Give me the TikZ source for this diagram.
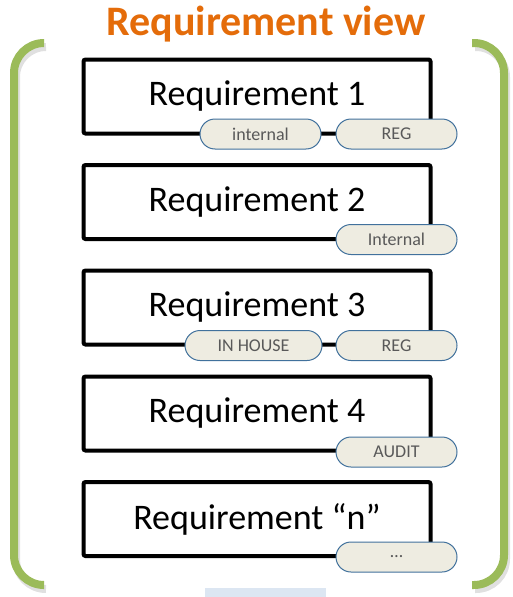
\documentclass[tikz,border=0pt]{standalone}
\usepackage{fontspec}
\setmainfont{Carlito}
\definecolor{brgreen}{HTML}{9BBB59}
\definecolor{ttlorange}{HTML}{E46C0A}
\definecolor{pillfill}{HTML}{EEECE1}
\definecolor{pillline}{HTML}{41719C}
\definecolor{pilltext}{HTML}{595959}
\definecolor{lblue}{HTML}{DCE6F2}
\begin{document}
\begin{tikzpicture}[x=1pt,y=-1pt,
  reqbox/.style={draw=black,line width=4pt,rounded corners=2pt,minimum width=347pt,minimum height=74pt,inner sep=0pt,font=\fontsize{36}{38}\selectfont,text=black},
  pill/.style={draw=pillline,line width=1pt,fill=pillfill,rounded corners=15pt,minimum width=121pt,minimum height=30pt,inner sep=0pt,font=\fontsize{18}{19}\selectfont,text=pilltext},
  bracket/.style={draw=brgreen,line width=8pt,rounded corners=30pt},
  bshadow/.style={draw=black!12,line width=8pt,rounded corners=30pt}]
\useasboundingbox (0,0) rectangle (513,597);
\fill[lblue] (205,588) rectangle (326,597);
\node[font=\bfseries\fontsize{42}{44}\selectfont,text=ttlorange] (title) at (266,24) {Requirement view};
% brackets (shadow then green)
\draw[bshadow] (46,47) -- (16,47) -- (16,589) -- (46,589);
\draw[bshadow] (475,47) -- (506,47) -- (506,589) -- (475,589);
\draw[bracket] (43,43) -- (14,43) -- (14,585) -- (43,585);
\draw[bracket] (472,43) -- (504,43) -- (504,585) -- (472,585);
% requirement boxes
\node[reqbox] (r1) at (257,96.5) {Requirement 1};
\node[reqbox] (r2) at (257,202) {Requirement 2};
\node[reqbox] (r3) at (257,307.5) {Requirement 3};
\node[reqbox] (r4) at (257,413.5) {Requirement 4};
\node[reqbox] (r5) at (257,519) {Requirement “n”};
% tags
\node[pill] (t1a) at (260.5,134) {internal};
\node[pill] (t1b) at (396.5,134) {REG};
\node[pill] (t2a) at (396.5,239.5) {Internal};
\node[pill,minimum width=137pt] (t3a) at (253.5,345.5) {IN HOUSE};
\node[pill] (t3b) at (396.5,345.5) {REG};
\node[pill] (t4a) at (396.5,452) {AUDIT};
\node[pill] (t5a) at (396.5,557) {…};
\end{tikzpicture}
\end{document}
